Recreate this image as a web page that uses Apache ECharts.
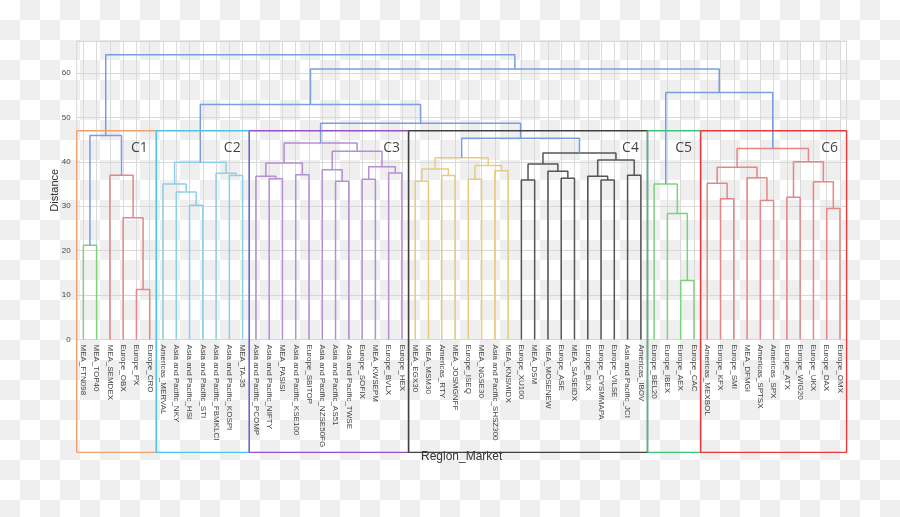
<!DOCTYPE html>
<html><head><meta charset="utf-8">
<script src="https://cdn.jsdelivr.net/npm/echarts@6/dist/echarts.min.js"></script>
<style>
html,body{margin:0;padding:0;}
body{width:900px;height:517px;background:#fff repeating-conic-gradient(#efefef 0% 25%, #ffffff 0% 50%) 0 0/40px 40px;}
#c{width:900px;height:517px;}
</style></head><body><div id="c"></div>
<script>
// ---------- DATA ----------
const leaves = [
  'MEA_FTN098','MEA_TOP40','MEA_SEMDEX','Europe_OBX','Europe_PX','Europe_CRO',
  'Americas_MERVAL','Asia and Pacific_NKY','Asia and Pacific_HSI','Asia and Pacific_STI','Asia and Pacific_FBMKLCI','Asia and Pacific_KOSPI','MEA_TA-35',
  'Asia and Pacific_PCOMP','Asia and Pacific_NIFTY','MEA_PASISI','Asia and Pacific_KSE100','Europe_SBITOP','Asia and Pacific_NZSE50FG','Asia and Pacific_AS51','Asia and Pacific_TWSE','Europe_SOFIX','MEA_KWSEPM','Europe_BVLX','Europe_HEX',
  'MEA_EGX30','MEA_MSM30','Americas_RTY','MEA_JOSMGNFF','Europe_ISEQ','MEA_NGSE30','Asia and Pacific_SHSZ300','MEA_KNSMIDX',
  'Europe_XU100','MEA_DSM','MEA_MOSENEW','Europe_ASE','MEA_SASEIDX','Europe_BUX','Europe_CYSMMAPA','Europe_VILSE','Asia and Pacific_JCI','Americas_IBOV',
  'Europe_BEL20','Europe_IBEX','Europe_AEX','Europe_CAC',
  'Americas_MEXBOL','Europe_KFX','Europe_SMI','MEA_DFMGI','Americas_SPTSX','Americas_SPX','Europe_ATX','Europe_WIG20','Europe_UKX','Europe_DAX','Europe_OMX'
];
// linkage: [childA, childB, distance, linkGroup]; index >= 58 refers to merge (index-58)
const merges = [
  [0,1,21.2,'g'], [4,5,11.25,'r'], [3,59,27.4,'r'], [2,60,37.0,'r'], [58,61,45.9,'b'],
  [8,9,30.2,'c'], [7,63,33.2,'c'], [6,64,35.0,'c'], [11,12,36.9,'c'], [10,66,37.4,'c'], [65,67,39.9,'c'],
  [14,15,36.2,'p'], [13,69,36.75,'p'], [16,17,37.1,'p'], [70,71,39.75,'p'], [19,20,35.6,'p'], [18,73,38.2,'p'],
  [21,22,36.1,'p'], [23,24,37.5,'p'], [75,76,38.9,'p'], [74,77,42.4,'p'], [72,78,44.25,'p'],
  [25,26,35.6,'y'], [27,28,36.9,'y'], [80,81,38.4,'y'], [29,30,36.1,'y'], [31,32,38.0,'y'], [83,84,39.2,'y'], [82,85,40.9,'y'],
  [33,34,35.9,'k'], [36,37,36.3,'k'], [35,88,37.9,'k'], [87,89,39.5,'k'], [39,40,35.9,'k'], [38,91,36.75,'k'],
  [41,42,37.0,'k'], [92,93,40.4,'k'], [90,94,42.0,'k'], [86,95,45.3,'b'],
  [45,46,13.3,'g'], [44,97,28.35,'g'], [43,98,35.0,'g'],
  [48,49,31.7,'r'], [47,100,35.2,'r'], [51,52,31.3,'r'], [50,102,36.4,'r'], [101,103,38.8,'r'],
  [53,54,32.0,'r'], [56,57,29.5,'r'], [55,106,35.5,'r'], [105,107,40.0,'r'], [104,108,43.0,'r'],
  [79,96,48.7,'b'], [68,110,52.9,'b'], [99,109,55.6,'b'], [111,112,60.9,'b'], [62,113,64.1,'b']
];
const clusterNames = ['C1','C2','C3','C4','C5','C6'];
const clusterFirstLeaf = [0,6,13,25,43,47];
const clusterLastLeaf = [5,12,24,42,46,57];
const clusterCut = 47.0;
const yMax = 67.2;

// ---------- STYLE / LAYOUT ----------
const linkColors = {b:'#7b9de0', g:'#7dd37d', r:'#e88585', c:'#8dcfea', p:'#b48fd2', y:'#e7cb80', k:'#555555'};
const boxColors = ['#f0a06e','#4cc4ee','#9452c4','#404040','#3cc67a','#e83a3a'];
const GL = 76.7, GR = 53.4, GT = 41, GB = 177.5;
const band = (900 - GL - GR) / leaves.length;
const BOX_BOTTOM = -25.4;
const FONT = 'Liberation Sans, Arial, sans-serif';

const N = leaves.length;
const nodeX = [], nodeH = [];
leaves.forEach((l,i)=>{ nodeX[i] = i; nodeH[i] = 0; });
merges.forEach((m,k)=>{ nodeX[N+k] = (nodeX[m[0]] + nodeX[m[1]]) / 2; nodeH[N+k] = m[2]; });

const series = [];
merges.forEach((m)=>{
  const [a,b,h,g] = m;
  series.push({
    type:'line', xAxisIndex:1, yAxisIndex:1, symbol:'none', silent:true, animation:false, clip:false,
    lineStyle:{color:linkColors[g], width:1.5},
    data:[[nodeX[a],nodeH[a]],[nodeX[a],h],[nodeX[b],h],[nodeX[b],nodeH[b]]]
  });
});
// cluster boxes on grid 0 (band-edge axis: leaf i spans [i, i+1])
clusterNames.forEach((nm,i)=>{
  const x0 = clusterFirstLeaf[i], x1 = clusterLastLeaf[i] + 1;
  series.push({
    type:'line', xAxisIndex:2, yAxisIndex:0, symbol:'none', silent:true, animation:false, clip:false, z:5,
    lineStyle:{color:boxColors[i], width:1.4},
    data:[[x0,clusterCut],[x1,clusterCut],[x1,BOX_BOTTOM],[x0,BOX_BOTTOM],[x0,clusterCut]]
  });
});
series.push({
  type:'scatter', xAxisIndex:2, yAxisIndex:0, symbolSize:1, silent:true, animation:false, z:6,
  itemStyle:{color:'transparent'},
  label:{show:true, position:'inside', offset:[-17,17.5], formatter:p=>p.name, fontSize:14, color:'#111', fontFamily:'Open Sans, sans-serif'},
  data: clusterNames.map((nm,i)=>({name:nm, value:[clusterLastLeaf[i]+1, clusterCut]}))
});

const chart = echarts.init(document.getElementById('c'), null, {renderer:'canvas'});
chart.setOption({
  animation:false,
  backgroundColor:'transparent',
  grid:[
    {left:GL, right:GR, top:GT, bottom:GB, show:true, borderColor:'#d8d8d8', borderWidth:1, backgroundColor:'transparent'},
    {left:GL+band/2, right:GR+band/2, top:GT, bottom:GB}
  ],
  xAxis:[
    {type:'category', gridIndex:0, data:leaves, boundaryGap:true,
     axisTick:{show:false}, axisLine:{lineStyle:{color:'#d8d8d8'}}, splitLine:{show:false},
     axisLabel:{rotate:-90, interval:0, fontSize:8, color:'#444', margin:5, fontFamily:FONT},
     name:'Region_Market', nameLocation:'middle', nameGap:111, nameMoveOverlap:false,
     nameTextStyle:{fontSize:12, color:'#333', fontFamily:FONT}},
    {type:'value', gridIndex:1, min:0, max:N-1, interval:1,
     axisLabel:{show:false}, axisTick:{show:false}, axisLine:{show:false},
     splitLine:{show:true, lineStyle:{color:'#dadada', width:1}}},
    {type:'value', gridIndex:0, min:0, max:N, show:false, splitLine:{show:false}}
  ],
  yAxis:[
    {type:'value', gridIndex:0, min:0, max:yMax, interval:10,
     axisLine:{show:false}, axisTick:{show:false},
     axisLabel:{fontSize:8, color:'#444', margin:6, fontFamily:FONT, showMaxLabel:false},
     splitLine:{lineStyle:{color:'#d8d8d8'}},
     name:'Distance', nameLocation:'middle', nameGap:16, nameMoveOverlap:false,
     nameTextStyle:{fontSize:11, color:'#333', fontFamily:FONT}},
    {type:'value', gridIndex:1, min:0, max:yMax, show:false}
  ],
  series: series
});
</script></body></html>
